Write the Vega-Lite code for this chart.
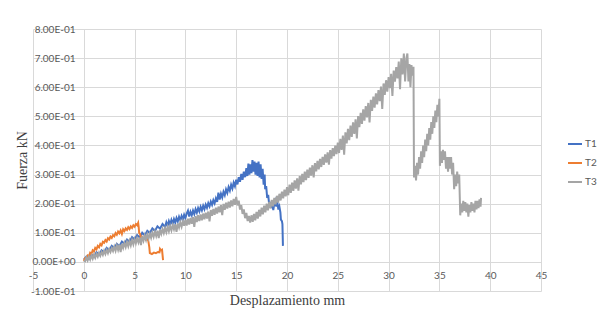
{
  "$schema": "https://vega.github.io/schema/vega-lite/v6.json",
  "width": 508,
  "height": 262,
  "autosize": "none",
  "padding": {"left": 33, "top": 29, "right": 59, "bottom": 19},
  "background": "white",
  "config": {"view": {"stroke": null}, "font": "Lato"},
  "datasets": {
    "t1": [
      {"x":0,"y":0.008},{"x":0.25,"y":0.018},{"x":0.5,"y":0.010},{"x":0.75,"y":0.025},{"x":1,"y":0.017},{"x":1.25,"y":0.033},{"x":1.5,"y":0.024},{"x":1.75,"y":0.040},{"x":2,"y":0.032},{"x":2.25,"y":0.048},{"x":2.5,"y":0.039},{"x":2.75,"y":0.055},{"x":3,"y":0.047},{"x":3.25,"y":0.062},{"x":3.5,"y":0.054},{"x":3.75,"y":0.070},{"x":4,"y":0.062},{"x":4.25,"y":0.077},{"x":4.5,"y":0.069},{"x":4.75,"y":0.085},{"x":5,"y":0.077},{"x":5.25,"y":0.092},{"x":5.5,"y":0.084},{"x":5.75,"y":0.100},{"x":6,"y":0.091},{"x":6.25,"y":0.107},{"x":6.5,"y":0.099},{"x":6.75,"y":0.115},{"x":7,"y":0.106},{"x":7.25,"y":0.122},{"x":7.5,"y":0.114},{"x":7.75,"y":0.130},
      {"x":8,"y":0.120},{"x":8.125,"y":0.136},{"x":8.25,"y":0.124},{"x":8.375,"y":0.140},{"x":8.5,"y":0.128},{"x":8.625,"y":0.144},{"x":8.75,"y":0.131},{"x":8.875,"y":0.147},{"x":9,"y":0.135},{"x":9.125,"y":0.151},{"x":9.25,"y":0.139},{"x":9.375,"y":0.155},{"x":9.5,"y":0.143},{"x":9.625,"y":0.158},{"x":9.75,"y":0.146},{"x":9.875,"y":0.162},{"x":10,"y":0.150},{"x":10.125,"y":0.166},{"x":10.25,"y":0.176},{"x":10.375,"y":0.156},{"x":10.5,"y":0.172},{"x":10.625,"y":0.160},{"x":10.75,"y":0.176},{"x":10.875,"y":0.164},{"x":11,"y":0.181},{"x":11.125,"y":0.169},{"x":11.25,"y":0.185},{"x":11.375,"y":0.173},{"x":11.5,"y":0.189},{"x":11.625,"y":0.177},{"x":11.75,"y":0.193},{"x":11.875,"y":0.181},{"x":12,"y":0.197},{"x":12.125,"y":0.186},{"x":12.25,"y":0.202},{"x":12.375,"y":0.191},{"x":12.5,"y":0.207},{"x":12.625,"y":0.196},{"x":12.75,"y":0.212},{"x":12.875,"y":0.201},{"x":13,"y":0.218},{"x":13.125,"y":0.206},{"x":13.25,"y":0.238},{"x":13.375,"y":0.214},{"x":13.5,"y":0.234},{"x":13.625,"y":0.221},{"x":13.75,"y":0.241},{"x":13.875,"y":0.229},{"x":14,"y":0.249},{"x":14.125,"y":0.237},{"x":14.25,"y":0.257},{"x":14.375,"y":0.245},{"x":14.5,"y":0.265},{"x":14.625,"y":0.252},{"x":14.75,"y":0.272},{"x":14.875,"y":0.260},{"x":15,"y":0.282},{"x":15.125,"y":0.266},{"x":15.25,"y":0.291},{"x":15.375,"y":0.275},{"x":15.5,"y":0.302},{"x":15.625,"y":0.282},{"x":15.75,"y":0.310},{"x":15.875,"y":0.291},{"x":16,"y":0.322},{"x":16.1,"y":0.295},{"x":16.2,"y":0.338},{"x":16.3,"y":0.300},{"x":16.4,"y":0.335},{"x":16.5,"y":0.305},{"x":16.6,"y":0.350},{"x":16.7,"y":0.310},{"x":16.8,"y":0.345},{"x":16.9,"y":0.300},{"x":17,"y":0.340},{"x":17.1,"y":0.295},{"x":17.2,"y":0.345},{"x":17.3,"y":0.290},{"x":17.4,"y":0.335},{"x":17.5,"y":0.285},{"x":17.6,"y":0.320},{"x":17.7,"y":0.265},{"x":17.8,"y":0.300},{"x":17.85,"y":0.250},{"x":17.95,"y":0.260},{"x":18.05,"y":0.220},{"x":18.15,"y":0.230},{"x":18.25,"y":0.195},{"x":18.35,"y":0.200},{"x":18.45,"y":0.185},{"x":18.55,"y":0.200},{"x":18.65,"y":0.178},{"x":18.75,"y":0.200},{"x":18.85,"y":0.210},{"x":18.95,"y":0.190},{"x":19.05,"y":0.205},{"x":19.15,"y":0.180},{"x":19.25,"y":0.190},{"x":19.35,"y":0.170},{"x":19.4,"y":0.145},{"x":19.5,"y":0.140},{"x":19.55,"y":0.130},{"x":19.6,"y":0.055}
    ],
    "t2": [
      {"x":0,"y":0.003},{"x":0.125,"y":0.012},{"x":0.25,"y":0.010},{"x":0.375,"y":0.022},{"x":0.5,"y":0.019},{"x":0.625,"y":0.031},{"x":0.75,"y":0.027},{"x":0.875,"y":0.040},{"x":1,"y":0.036},{"x":1.125,"y":0.048},{"x":1.25,"y":0.043},{"x":1.375,"y":0.055},{"x":1.5,"y":0.050},{"x":1.625,"y":0.062},{"x":1.75,"y":0.057},{"x":1.875,"y":0.069},{"x":2,"y":0.066},{"x":2.125,"y":0.075},{"x":2.25,"y":0.070},{"x":2.375,"y":0.081},{"x":2.5,"y":0.077},{"x":2.625,"y":0.087},{"x":2.75,"y":0.082},{"x":2.875,"y":0.092},{"x":3,"y":0.088},{"x":3.125,"y":0.099},{"x":3.25,"y":0.093},{"x":3.375,"y":0.104},{"x":3.5,"y":0.098},{"x":3.625,"y":0.108},{"x":3.75,"y":0.096},{"x":3.875,"y":0.112},{"x":4,"y":0.106},{"x":4.125,"y":0.115},{"x":4.25,"y":0.110},{"x":4.375,"y":0.119},{"x":4.5,"y":0.113},{"x":4.625,"y":0.122},{"x":4.75,"y":0.117},{"x":4.875,"y":0.126},{"x":5,"y":0.121},{"x":5.125,"y":0.130},{"x":5.25,"y":0.126},{"x":5.35,"y":0.134},{"x":5.4,"y":0.120},{"x":5.45,"y":0.100},{"x":5.55,"y":0.095},{"x":5.65,"y":0.080},{"x":5.75,"y":0.085},{"x":5.85,"y":0.078},{"x":6,"y":0.084},{"x":6.1,"y":0.076},{"x":6.25,"y":0.080},{"x":6.35,"y":0.072},{"x":6.45,"y":0.050},{"x":6.5,"y":0.030},{"x":6.7,"y":0.027},{"x":6.9,"y":0.032},{"x":7.1,"y":0.030},{"x":7.3,"y":0.034},{"x":7.45,"y":0.033},{"x":7.5,"y":0.045},{"x":7.6,"y":0.040},{"x":7.7,"y":0.042},{"x":7.8,"y":0.006}
    ],
    "t3": [
      {"x":0,"y":0.004},{"x":0.125,"y":0.002},{"x":0.25,"y":0.015},{"x":0.375,"y":0.005},{"x":0.5,"y":0.018},{"x":0.625,"y":0.008},{"x":0.75,"y":0.022},{"x":0.875,"y":0.011},{"x":1,"y":0.025},{"x":1.125,"y":0.014},{"x":1.25,"y":0.028},{"x":1.375,"y":0.018},{"x":1.5,"y":0.031},{"x":1.625,"y":0.021},{"x":1.75,"y":0.034},{"x":1.875,"y":0.024},{"x":2,"y":0.038},{"x":2.125,"y":0.027},{"x":2.25,"y":0.041},{"x":2.375,"y":0.030},{"x":2.5,"y":0.044},{"x":2.625,"y":0.034},{"x":2.75,"y":0.047},{"x":2.875,"y":0.037},{"x":3,"y":0.052},{"x":3.125,"y":0.038},{"x":3.25,"y":0.056},{"x":3.375,"y":0.041},{"x":3.5,"y":0.059},{"x":3.625,"y":0.034},{"x":3.75,"y":0.062},{"x":3.875,"y":0.048},{"x":4,"y":0.065},{"x":4.125,"y":0.051},{"x":4.25,"y":0.068},{"x":4.375,"y":0.054},{"x":4.5,"y":0.072},{"x":4.625,"y":0.057},{"x":4.75,"y":0.075},{"x":4.875,"y":0.060},{"x":5,"y":0.078},{"x":5.125,"y":0.064},{"x":5.25,"y":0.081},{"x":5.375,"y":0.067},{"x":5.5,"y":0.084},{"x":5.625,"y":0.058},{"x":5.75,"y":0.088},{"x":5.875,"y":0.073},{"x":6,"y":0.091},{"x":6.125,"y":0.076},{"x":6.25,"y":0.094},{"x":6.375,"y":0.080},{"x":6.5,"y":0.097},{"x":6.625,"y":0.083},{"x":6.75,"y":0.100},{"x":6.875,"y":0.086},{"x":7,"y":0.104},{"x":7.125,"y":0.089},{"x":7.25,"y":0.107},{"x":7.375,"y":0.082},{"x":7.5,"y":0.110},{"x":7.625,"y":0.096},{"x":7.75,"y":0.113},{"x":7.875,"y":0.099},{"x":8,"y":0.116},{"x":8.125,"y":0.102},{"x":8.25,"y":0.120},{"x":8.375,"y":0.105},{"x":8.5,"y":0.123},{"x":8.625,"y":0.108},{"x":8.75,"y":0.126},{"x":8.875,"y":0.112},{"x":9,"y":0.129},{"x":9.125,"y":0.103},{"x":9.25,"y":0.132},{"x":9.375,"y":0.118},{"x":9.5,"y":0.136},{"x":9.625,"y":0.121},{"x":9.75,"y":0.139},{"x":9.875,"y":0.124},{"x":10,"y":0.145},{"x":10.125,"y":0.125},{"x":10.25,"y":0.148},{"x":10.375,"y":0.128},{"x":10.5,"y":0.151},{"x":10.625,"y":0.131},{"x":10.75,"y":0.154},{"x":10.875,"y":0.120},{"x":11,"y":0.157},{"x":11.125,"y":0.137},{"x":11.25,"y":0.160},{"x":11.375,"y":0.140},{"x":11.5,"y":0.163},{"x":11.625,"y":0.143},{"x":11.75,"y":0.166},{"x":11.875,"y":0.146},{"x":12,"y":0.169},{"x":12.125,"y":0.149},{"x":12.25,"y":0.173},{"x":12.375,"y":0.139},{"x":12.5,"y":0.178},{"x":12.625,"y":0.158},{"x":12.75,"y":0.182},{"x":12.875,"y":0.162},{"x":13,"y":0.186},{"x":13.125,"y":0.166},{"x":13.25,"y":0.190},{"x":13.375,"y":0.170},{"x":13.5,"y":0.195},{"x":13.625,"y":0.161},{"x":13.75,"y":0.199},{"x":13.875,"y":0.179},{"x":14,"y":0.203},{"x":14.125,"y":0.183},{"x":14.25,"y":0.207},{"x":14.375,"y":0.187},{"x":14.5,"y":0.211},{"x":14.625,"y":0.191},{"x":14.75,"y":0.216},{"x":14.875,"y":0.196},{"x":15,"y":0.223},{"x":15.125,"y":0.194},
      {"x":15.25,"y":0.210},{"x":15.375,"y":0.180},{"x":15.5,"y":0.195},{"x":15.625,"y":0.165},{"x":15.75,"y":0.180},{"x":15.875,"y":0.150},{"x":16,"y":0.168},{"x":16.125,"y":0.140},{"x":16.25,"y":0.158},{"x":16.375,"y":0.135},{"x":16.5,"y":0.160},{"x":16.625,"y":0.138},{"x":16.75,"y":0.165},{"x":16.875,"y":0.143},{"x":17,"y":0.172},{"x":17.125,"y":0.149},{"x":17.25,"y":0.179},{"x":17.375,"y":0.156},{"x":17.5,"y":0.186},{"x":17.625,"y":0.163},{"x":17.75,"y":0.193},{"x":17.875,"y":0.170},{"x":18,"y":0.200},{"x":18.125,"y":0.177},{"x":18.25,"y":0.206},{"x":18.375,"y":0.184},{"x":18.5,"y":0.213},{"x":18.625,"y":0.191},{"x":18.75,"y":0.220},{"x":18.875,"y":0.198},{"x":19,"y":0.227},{"x":19.125,"y":0.204},{"x":19.25,"y":0.234},{"x":19.375,"y":0.211},{"x":19.5,"y":0.241},{"x":19.625,"y":0.218},{"x":19.75,"y":0.248},{"x":19.875,"y":0.225},{"x":20,"y":0.257},
      {"x":20.125,"y":0.229},{"x":20.25,"y":0.265},{"x":20.375,"y":0.237},{"x":20.5,"y":0.272},{"x":20.625,"y":0.244},{"x":20.75,"y":0.280},{"x":20.875,"y":0.252},{"x":21,"y":0.287},{"x":21.125,"y":0.245},{"x":21.25,"y":0.295},{"x":21.375,"y":0.266},{"x":21.5,"y":0.302},{"x":21.625,"y":0.274},{"x":21.75,"y":0.310},{"x":21.875,"y":0.281},{"x":22,"y":0.317},{"x":22.125,"y":0.289},{"x":22.25,"y":0.324},{"x":22.375,"y":0.296},{"x":22.5,"y":0.332},{"x":22.625,"y":0.290},{"x":22.75,"y":0.339},{"x":22.875,"y":0.311},{"x":23,"y":0.347},{"x":23.125,"y":0.318},{"x":23.25,"y":0.354},{"x":23.375,"y":0.326},{"x":23.5,"y":0.361},{"x":23.625,"y":0.333},{"x":23.75,"y":0.369},{"x":23.875,"y":0.341},{"x":24,"y":0.376},{"x":24.125,"y":0.334},{"x":24.25,"y":0.384},{"x":24.375,"y":0.355},{"x":24.5,"y":0.391},{"x":24.625,"y":0.363},{"x":24.75,"y":0.399},{"x":24.875,"y":0.370},{"x":25,"y":0.410},
      {"x":25.125,"y":0.374},{"x":25.25,"y":0.423},{"x":25.375,"y":0.385},{"x":25.5,"y":0.434},{"x":25.625,"y":0.368},{"x":25.75,"y":0.445},{"x":25.875,"y":0.407},{"x":26,"y":0.457},{"x":26.125,"y":0.418},{"x":26.25,"y":0.468},{"x":26.375,"y":0.429},{"x":26.5,"y":0.479},{"x":26.625,"y":0.440},{"x":26.75,"y":0.490},{"x":26.875,"y":0.424},{"x":27,"y":0.501},{"x":27.125,"y":0.463},{"x":27.25,"y":0.512},{"x":27.375,"y":0.474},{"x":27.5,"y":0.524},{"x":27.625,"y":0.485},{"x":27.75,"y":0.535},{"x":27.875,"y":0.496},{"x":28,"y":0.546},{"x":28.125,"y":0.479},{"x":28.25,"y":0.557},{"x":28.375,"y":0.519},{"x":28.5,"y":0.568},{"x":28.625,"y":0.530},{"x":28.75,"y":0.579},{"x":28.875,"y":0.541},{"x":29,"y":0.590},{"x":29.125,"y":0.552},{"x":29.25,"y":0.602},{"x":29.375,"y":0.525},{"x":29.5,"y":0.613},{"x":29.625,"y":0.574},{"x":29.75,"y":0.624},{"x":29.875,"y":0.585},{"x":30,"y":0.635},{"x":30.125,"y":0.597},{"x":30.25,"y":0.646},{"x":30.375,"y":0.570},{"x":30.5,"y":0.657},{"x":30.625,"y":0.619},{"x":30.75,"y":0.669},{"x":30.875,"y":0.630},{"x":31,"y":0.688},{"x":31.125,"y":0.593},{"x":31.25,"y":0.699},{"x":31.375,"y":0.644},{"x":31.5,"y":0.716},{"x":31.625,"y":0.620},{"x":31.75,"y":0.700},{"x":31.85,"y":0.716},{"x":31.95,"y":0.620},{"x":32.05,"y":0.680},{"x":32.15,"y":0.600},{"x":32.25,"y":0.676},{"x":32.35,"y":0.640},{"x":32.45,"y":0.670},
      {"x":32.5,"y":0.290},{"x":32.6,"y":0.330},{"x":32.7,"y":0.280},{"x":32.8,"y":0.340},{"x":32.9,"y":0.300},{"x":33,"y":0.360},{"x":33.1,"y":0.320},{"x":33.2,"y":0.380},{"x":33.3,"y":0.340},{"x":33.4,"y":0.400},{"x":33.5,"y":0.360},{"x":33.6,"y":0.420},{"x":33.7,"y":0.380},{"x":33.8,"y":0.440},{"x":33.9,"y":0.400},{"x":34,"y":0.460},{"x":34.1,"y":0.420},{"x":34.2,"y":0.480},{"x":34.3,"y":0.440},{"x":34.4,"y":0.500},{"x":34.5,"y":0.460},{"x":34.6,"y":0.520},{"x":34.7,"y":0.480},{"x":34.8,"y":0.540},{"x":34.9,"y":0.500},{"x":35,"y":0.560},{"x":35.05,"y":0.330},{"x":35.15,"y":0.380},{"x":35.25,"y":0.340},{"x":35.35,"y":0.385},{"x":35.45,"y":0.350},{"x":35.55,"y":0.380},{"x":35.65,"y":0.320},{"x":35.75,"y":0.360},{"x":35.85,"y":0.310},{"x":35.95,"y":0.360},{"x":36.05,"y":0.320},{"x":36.15,"y":0.360},{"x":36.25,"y":0.300},{"x":36.35,"y":0.340},{"x":36.45,"y":0.250},{"x":36.55,"y":0.300},{"x":36.65,"y":0.260},{"x":36.75,"y":0.310},{"x":36.85,"y":0.270},{"x":36.95,"y":0.300},{"x":37.05,"y":0.160},{"x":37.15,"y":0.200},{"x":37.25,"y":0.170},{"x":37.35,"y":0.210},{"x":37.45,"y":0.175},{"x":37.55,"y":0.205},{"x":37.65,"y":0.170},{"x":37.75,"y":0.200},{"x":37.85,"y":0.155},{"x":37.95,"y":0.195},{"x":38.05,"y":0.170},{"x":38.15,"y":0.205},{"x":38.25,"y":0.175},{"x":38.35,"y":0.200},{"x":38.45,"y":0.170},{"x":38.55,"y":0.210},{"x":38.65,"y":0.180},{"x":38.75,"y":0.210},{"x":38.85,"y":0.185},{"x":38.95,"y":0.215},{"x":39.05,"y":0.190},{"x":39.1,"y":0.220}
    ]
  },
  "layer": [
    {
      "data": {"name": "t1"},
      "mark": {"type": "line", "strokeWidth": 2, "clip": true},
      "encoding": {"color": {"datum": "T1"}}
    },
    {
      "data": {"name": "t2"},
      "mark": {"type": "line", "strokeWidth": 2, "clip": true},
      "encoding": {"color": {"datum": "T2"}}
    },
    {
      "data": {"name": "t3"},
      "mark": {"type": "line", "strokeWidth": 2, "clip": true},
      "encoding": {"color": {"datum": "T3"}}
    }
  ],
  "encoding": {
    "x": {
      "field": "x", "type": "quantitative",
      "scale": {"domain": [-5, 45], "nice": false, "zero": false},
      "axis": {
        "values": [-5,0,5,10,15,20,25,30,35,40,45],
        "labelExpr": "(datum.value < 0 ? '-' : '') + abs(datum.value)",
        "labelFlush": false,
        "offset": -29, "domain": false, "ticks": false,
        "grid": true, "gridColor": "#d9d9d9", "gridWidth": 1,
        "labelColor": "#595959", "labelFontSize": 10, "labelFont": "Lato", "labelPadding": 8,
        "title": "Desplazamiento mm", "titleFont": "Liberation Serif", "titleFontSize": 14,
        "titleFontWeight": "normal", "titleColor": "#404040",
        "titleY": 42, "titleBaseline": "alphabetic"
      }
    },
    "y": {
      "field": "y", "type": "quantitative",
      "scale": {"domain": [-0.1, 0.8], "nice": false, "zero": false},
      "axis": {
        "values": [-0.1,0,0.1,0.2,0.3,0.4,0.5,0.6,0.7,0.8],
        "labelExpr": "(datum.value < 0 ? '-' : '') + format(abs(datum.value) * 10, '.2f') + (abs(datum.value) < 1e-9 ? 'E+00' : 'E-01')",
        "offset": -51, "domain": false, "ticks": false,
        "grid": true, "gridColor": "#d9d9d9", "gridWidth": 1,
        "labelColor": "#595959", "labelFontSize": 10, "labelFont": "Lato", "labelPadding": 9,
        "title": "Fuerza kN", "titleFont": "Liberation Serif", "titleFontSize": 14,
        "titleFontWeight": "normal", "titleColor": "#404040",
        "titleX": -62, "titleY": 131, "titleBaseline": "middle", "titleAlign": "center", "titleAngle": -90
      }
    },
    "color": {
      "type": "nominal",
      "scale": {"domain": ["T1","T2","T3"], "range": ["#4472C4","#ED7D31","#A5A5A5"]},
      "legend": {
        "title": null, "orient": "none", "legendX": 534, "legendY": 107,
        "symbolType": "stroke", "symbolSize": 196, "symbolStrokeWidth": 2,
        "labelFont": "Lato", "labelFontSize": 10, "labelColor": "#595959",
        "labelOffset": 2, "rowPadding": 6
      }
    }
  }
}
